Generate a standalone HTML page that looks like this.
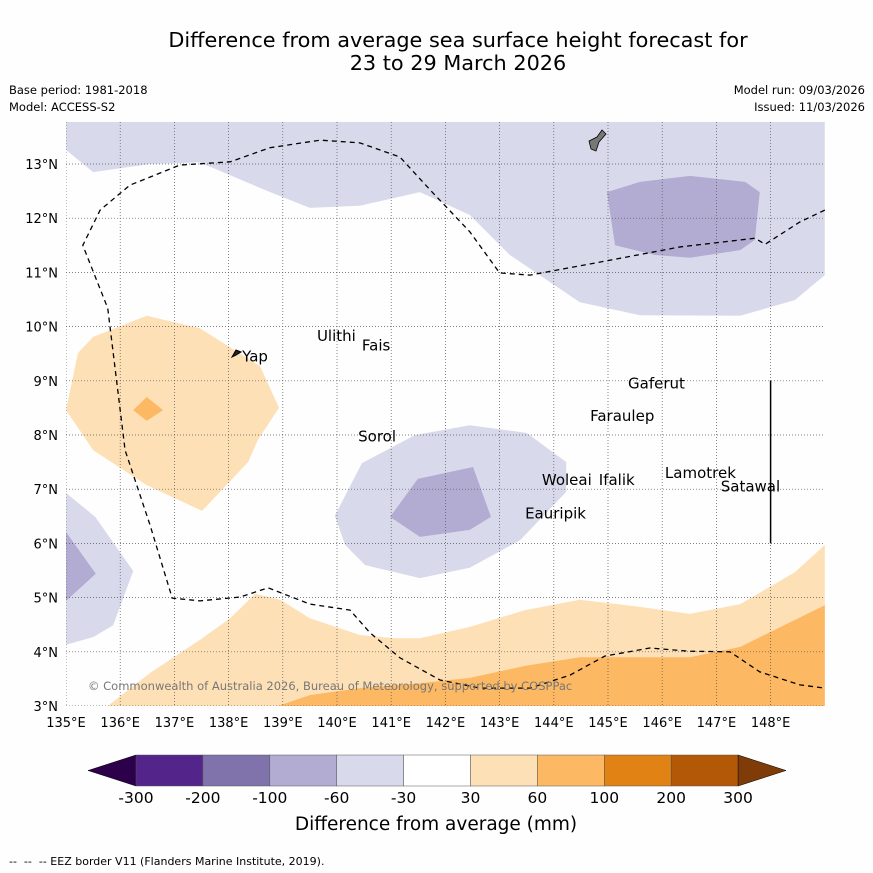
<!DOCTYPE html>
<html><head><meta charset="utf-8"><style>
body{margin:0;background:#fff;}
svg{display:block;font-family:"DejaVu Sans","Liberation Sans",sans-serif;}
</style></head><body>
<svg id="chart" width="873" height="873" viewBox="0 0 873 873">
<rect width="873" height="873" fill="#fefefe"/>
<text x="458" y="47" font-size="20.8" text-anchor="middle">Difference from average sea surface height forecast for</text>
<text x="458" y="70" font-size="20.8" text-anchor="middle">23 to 29 March 2026</text>
<text x="9" y="94" font-size="11.5">Base period: 1981-2018</text>
<text x="9" y="111" font-size="11.5">Model: ACCESS-S2</text>
<text x="865" y="94" font-size="11.5" text-anchor="end">Model run: 09/03/2026</text>
<text x="865" y="111" font-size="11.5" text-anchor="end">Issued: 11/03/2026</text>
<defs><clipPath id="mapclip"><rect x="66" y="122" width="759" height="584"/></clipPath></defs>
<g id="map" clip-path="url(#mapclip)"></g>
<g id="axes"></g>
<g id="cbar"></g>
<text x="436" y="830" font-size="18.5" text-anchor="middle">Difference from average (mm)</text>
<text x="9" y="865" font-size="11">-- &#160;-- &#160;-- EEZ border V11 (Flanders Marine Institute, 2019).</text>
</svg>
<script>
const lonTicks=[135,136,137,138,139,140,141,142,143,144,145,146,147,148];
const latTicks=[3,4,5,6,7,8,9,10,11,12,13];
const levelColors=["#53248a","#8073ac","#b2abd2","#d8daeb","#ffffff","#fee0b6","#fdb863","#e08214","#b35806"];
const levelLabels=["-300","-200","-100","-60","-30","30","60","100","200","300"];
const contourFills=[
 {c:"#d8daeb",p:[[135,13.78],[135,13.26],[135.5,12.85],[136.55,13.0],[137.47,13.03],[138.67,12.52],[139.5,12.19],[140.42,12.23],[141.53,12.48],[142.45,12.06],[143.19,11.32],[144.48,10.45],[145.59,10.21],[147.44,10.2],[148.45,10.49],[149,10.95],[149,13.78]]},
 {c:"#b2abd2",p:[[144.98,12.48],[145.59,12.67],[146.51,12.78],[147.53,12.67],[147.8,12.48],[147.71,11.6],[147.44,11.41],[146.51,11.27],[145.87,11.32],[145.13,11.5]]},
 {c:"#d8daeb",p:[[139.96,6.51],[140.46,7.48],[141.44,8.0],[142.45,8.18],[143.5,8.04],[144.23,7.5],[144.23,6.95],[143.38,6.06],[142.45,5.55],[141.53,5.36],[140.52,5.6],[140.15,5.97]]},
 {c:"#b2abd2",p:[[140.98,6.49],[141.49,7.19],[142.51,7.41],[142.84,6.49],[142.45,6.25],[141.53,6.12]]},
 {c:"#d8daeb",p:[[135,6.93],[135.54,6.49],[136.24,5.49],[135.87,4.49],[135.5,4.27],[135,4.13]]},
 {c:"#b2abd2",p:[[135,6.21],[135.55,5.44],[135,4.94]]},
 {c:"#fee0b6",p:[[135,8.46],[135.22,9.51],[135.5,9.81],[136.49,10.2],[137.47,9.97],[138.58,9.27],[138.93,8.5],[138.54,7.91],[138.36,7.5],[137.51,6.6],[136.48,7.08],[135.5,7.72]]},
 {c:"#fdb863",p:[[136.24,8.46],[136.49,8.7],[136.79,8.46],[136.49,8.26]]},
 {c:"#fee0b6",p:[[135.77,3],[136.55,3.61],[137.47,4.22],[138.03,4.62],[138.49,5.07],[138.95,4.96],[139.5,4.62],[140.42,4.31],[141.07,4.25],[141.53,4.25],[142.45,4.46],[143.47,4.77],[144.48,4.96],[145.59,4.83],[146.51,4.7],[147.44,4.88],[148.45,5.47],[149,5.97],[149,3]]},
 {c:"#fdb863",p:[[138.91,3],[139.5,3.2],[140.42,3.33],[141.53,3.42],[142.45,3.52],[143.47,3.74],[144.48,3.9],[145.59,3.9],[146.51,3.9],[147.44,4.09],[148.45,4.59],[149,4.86],[149,3]]}
];
const eezLon=[149,148.54,147.9,147.71,146.33,144.85,143.56,143.0,142.45,141.72,141.16,140.42,139.69,138.76,138.03,137.1,136.18,135.63,135.31,135.77,136.09,136.55,136.96,137.47,138.21,138.73,139.5,140.24,140.61,141.16,141.9,142.64,143.56,144.3,144.94,145.77,146.51,147.25,147.8,148.54,149];
const eezLat=[12.15,11.93,11.52,11.63,11.47,11.19,10.95,10.99,11.75,12.52,13.13,13.39,13.44,13.3,13.04,12.98,12.61,12.15,11.5,10.34,7.72,6.34,4.99,4.94,5.01,5.18,4.88,4.77,4.35,3.89,3.48,3.33,3.33,3.57,3.92,4.07,4.01,4.0,3.63,3.39,3.33];
const islandNames=["Ulithi","Fais","Yap","Gaferut","Faraulep","Sorol","Woleai","Ifalik","Lamotrek","Satawal","Eauripik"];
const islandLon=[139.63,140.46,138.25,145.37,144.67,140.39,143.78,144.83,146.05,147.08,143.47];
const islandLat=[9.83,9.65,9.45,8.95,8.35,7.97,7.17,7.17,7.3,7.05,6.55];
const NS="http://www.w3.org/2000/svg";
const X=lon=>66+(lon-135)*54.2, Y=lat=>706-(lat-3)*54.2;
function mk(tag,attrs,parent){const e=document.createElementNS(NS,tag);for(const k in attrs)e.setAttribute(k,attrs[k]);parent.appendChild(e);return e;}
const map=document.getElementById('map'),axes=document.getElementById('axes'),cbar=document.getElementById('cbar');
contourFills.forEach((f,i)=>{const e=mk('polygon',{points:f.p.map(q=>X(q[0])+','+Y(q[1])).join(' '),fill:f.c},map);

});
lonTicks.forEach(l=>{const e=mk('line',{x1:X(l),x2:X(l),y1:122,y2:706,stroke:'#555','stroke-width':0.7,'stroke-dasharray':'1,2'},map);


const t=mk('text',{x:X(l),y:727,'font-size':13,'text-anchor':'middle'},axes);t.textContent=l+'°E';

});
latTicks.forEach(l=>{const e=mk('line',{x1:66,x2:825,y1:Y(l),y2:Y(l),stroke:'#555','stroke-width':0.7,'stroke-dasharray':'1,2'},map);


const t=mk('text',{x:58,y:Y(l)+5,'font-size':13,'text-anchor':'end'},axes);t.textContent=l+'°N';

});
const eez=mk('polyline',{points:eezLon.map((l,i)=>X(l)+','+Y(eezLat[i])).join(' '),fill:'none',stroke:'#000','stroke-width':1.3,'stroke-dasharray':'5,4'},map);


const vl=mk('line',{x1:X(148),x2:X(148),y1:Y(9),y2:Y(6),stroke:'#000','stroke-width':1.5},map);


const guam=mk('path',{d:'M589,141 L597,137 L602,130 L606,134 L599,142 L596,151 L591,149 Z',fill:'#777',stroke:'#000','stroke-width':0.8},map);


const yap=mk('path',{d:'M232,357 L236,350 L241,352 L236,355 Z',fill:'#222',stroke:'#000'},map);


islandNames.forEach((n,i)=>{const t=mk('text',{x:X(islandLon[i]),y:Y(islandLat[i])+5,'font-size':15},map);t.textContent=n;

});
const cp=mk('text',{x:88,y:690,'font-size':11.5,fill:'#777'},map);cp.textContent='© Commonwealth of Australia 2026, Bureau of Meteorology, supported by COSPPac';


const x0=136,w=66.9,y0=755,h=31;
const tl=mk('polygon',{points:`${x0},${y0} 88,${y0+h/2} ${x0},${y0+h}`,fill:'#2d004b',stroke:'#000','stroke-width':0.5},cbar);


levelColors.forEach((c,i)=>{const r=mk('rect',{x:x0+i*w,y:y0,width:w,height:h,fill:c,stroke:'#555','stroke-width':0.5},cbar);

});
const xe=x0+levelColors.length*w;
const tr=mk('polygon',{points:`${xe},${y0} 786,${y0+h/2} ${xe},${y0+h}`,fill:'#7f3b08',stroke:'#000','stroke-width':0.5},cbar);


levelLabels.forEach((s,i)=>{const t=mk('text',{x:x0+i*w,y:803,'font-size':15.5,'text-anchor':'middle'},cbar);t.textContent=s;

});
</script>
</body></html>
